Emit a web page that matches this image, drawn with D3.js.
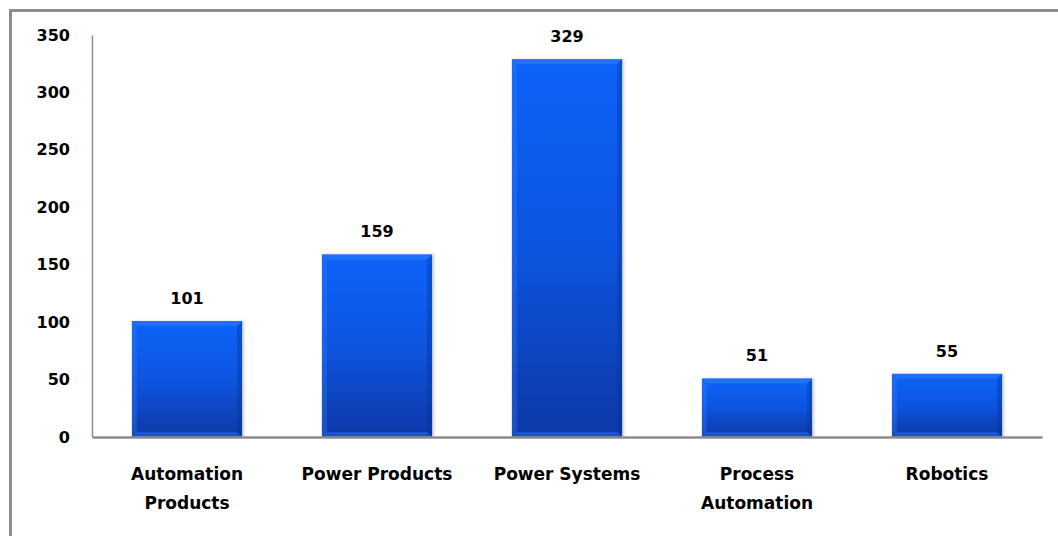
<!DOCTYPE html>
<html><head><meta charset="utf-8">
<script src="https://cdn.jsdelivr.net/npm/d3@7"></script>
<style>body{margin:0;background:#fff;}svg{display:block;}</style>
</head><body>
<script>
const categories = [["Automation","Products"],["Power Products"],["Power Systems"],["Process","Automation"],["Robotics"]];
const values = [101, 159, 329, 51, 55];
const yTicks = [0, 50, 100, 150, 200, 250, 300, 350];

const W = 1058, H = 536;
const svg = d3.select("body").append("svg").attr("width", W).attr("height", H);
const defs = svg.append("defs");
const g1 = defs.append("linearGradient").attr("id","barGrad").attr("x1",0).attr("y1",0).attr("x2",0).attr("y2",1);
g1.append("stop").attr("offset","0%").attr("stop-color","#0d63f8");
g1.append("stop").attr("offset","50%").attr("stop-color","#0a55e0");
g1.append("stop").attr("offset","100%").attr("stop-color","#0838a6");
const f = defs.append("filter").attr("id","sh").attr("x","-10%").attr("y","-10%").attr("width","130%").attr("height","130%");
f.append("feDropShadow").attr("dx",2).attr("dy",0).attr("stdDeviation",1.5).attr("flood-color","#000").attr("flood-opacity",0.18);

// outer frame
svg.append("rect").attr("x",10.5).attr("y",10.5).attr("width",W+20).attr("height",H+20)
  .attr("fill","none").attr("stroke","#8c8c8c").attr("stroke-width",3);

const x0 = 92, x1 = 1042, yTop = 35, yBot = 437;
const x = d3.scaleBand().domain(d3.range(values.length)).range([x0, x1]).paddingInner(0.42).paddingOuter(0.21);
const y = d3.scaleLinear().domain([0, 350]).range([yBot, yTop]);

const font = "'DejaVu Sans', Verdana, sans-serif";
const fs = 17;

// bars
const bars = svg.append("g").selectAll("g").data(values).join("g");
bars.each(function(d, i){
  const gg = d3.select(this);
  const bx = x(i), bw = x.bandwidth(), by = y(d), bh = y(0) - y(d);
  const b = 5;
  gg.append("rect").attr("x",bx).attr("y",by).attr("width",bw).attr("height",bh)
    .attr("fill","url(#barGrad)").attr("filter","url(#sh)");
  gg.append("path").attr("d",`M${bx},${by}L${bx+bw},${by}L${bx+bw-b},${by+b}L${bx+b},${by+b}Z`).attr("fill","#4a8cff").attr("opacity",0.35);
  gg.append("path").attr("d",`M${bx},${by}L${bx+b},${by+b}L${bx+b},${by+bh-b}L${bx},${by+bh}Z`).attr("fill","#3a80ff").attr("opacity",0.3);
  gg.append("path").attr("d",`M${bx+bw},${by}L${bx+bw},${by+bh}L${bx+bw-b},${by+bh-b}L${bx+bw-b},${by+b}Z`).attr("fill","#05308a").attr("opacity",0.35);
  gg.append("path").attr("d",`M${bx},${by+bh}L${bx+b},${by+bh-b}L${bx+bw-b},${by+bh-b}L${bx+bw},${by+bh}Z`).attr("fill","#2a74ff").attr("opacity",0.45);
});

// value labels
svg.append("g").selectAll("text").data(values).join("text")
  .attr("x",(d,i)=>x(i)+x.bandwidth()/2).attr("y",d=>y(d)-17)
  .attr("text-anchor","middle").attr("font-family",font).attr("font-weight","bold")
  .attr("font-size",16).attr("fill","#000").text(d=>d);

// axes
const yAxis = d3.axisLeft(y).tickValues(yTicks).tickSize(0).tickPadding(22);
const ya = svg.append("g").attr("transform",`translate(${x0},0)`).call(yAxis);
ya.select(".domain").attr("stroke","#8c8c8c").attr("stroke-width",1.5);
ya.selectAll("text").attr("font-family",font).attr("font-weight","bold").attr("font-size",16).attr("fill","#000");

const xAxis = d3.axisBottom(x).tickSize(0).tickFormat("");
const xa = svg.append("g").attr("transform",`translate(0,${yBot})`).call(xAxis);
xa.select(".domain").attr("stroke","#8c8c8c").attr("stroke-width",2.5);

// category labels
const cl = svg.append("g").selectAll("text").data(categories).join("text")
  .attr("x",(d,i)=>x(i)+x.bandwidth()/2).attr("y",480)
  .attr("text-anchor","middle").attr("font-family",font).attr("font-weight","bold")
  .attr("font-size",fs).attr("fill","#000");
cl.each(function(d){
  const t = d3.select(this);
  d.forEach((line,k)=>t.append("tspan").attr("x",t.attr("x")).attr("dy",k===0?0:29).text(line));
});
</script>
</body></html>
